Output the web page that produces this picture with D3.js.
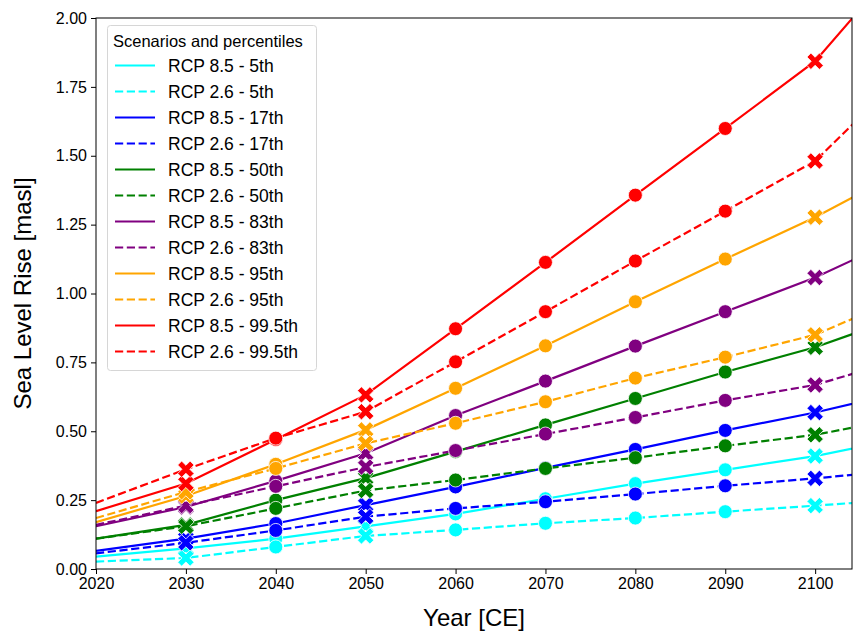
<!DOCTYPE html>
<html>
<head>
<meta charset="utf-8">
<script src="https://cdn.jsdelivr.net/npm/d3@7"></script>
<style>
  html, body { margin: 0; padding: 0; background: #fff; }
  svg { display: block; font-family: "Liberation Sans", Arial, sans-serif; }
</style>
</head>
<body>
<div id="chart"></div>
<script>
// years of the projection (last one only carries the line past the frame)
const YEARS = [2020, 2030, 2040, 2050, 2060, 2070, 2080, 2090, 2100, 2110];
const CIRCLE_YEARS = [2040, 2060, 2070, 2080, 2090];
const CROSS_YEARS = [2030, 2050, 2100];
const X_TICKS = [2020, 2030, 2040, 2050, 2060, 2070, 2080, 2090, 2100];
const Y_TICKS = [0, 0.25, 0.5, 0.75, 1, 1.25, 1.5, 1.75, 2];

// sea level rise [masl]
const rcp85_p5   = [0.045, 0.075, 0.11, 0.155, 0.20, 0.255, 0.31, 0.36, 0.41, 0.475];
const rcp26_p5   = [0.027, 0.04, 0.08, 0.12, 0.142, 0.166, 0.185, 0.208, 0.23, 0.253];
const rcp85_p17  = [0.066, 0.11, 0.165, 0.232, 0.298, 0.367, 0.434, 0.503, 0.568, 0.645];
const rcp26_p17  = [0.057, 0.095, 0.14, 0.19, 0.22, 0.244, 0.272, 0.302, 0.329, 0.36];
const rcp85_p50  = [0.11, 0.16, 0.25, 0.33, 0.426, 0.523, 0.619, 0.715, 0.805, 0.92];
const rcp26_p50  = [0.11, 0.155, 0.22, 0.285, 0.323, 0.365, 0.404, 0.447, 0.487, 0.55];
const rcp85_p83  = [0.155, 0.225, 0.32, 0.42, 0.557, 0.682, 0.809, 0.934, 1.058, 1.21];
const rcp26_p83  = [0.16, 0.23, 0.30, 0.37, 0.43, 0.49, 0.55, 0.612, 0.668, 0.765];
const rcp85_p95  = [0.17, 0.265, 0.38, 0.505, 0.656, 0.81, 0.97, 1.125, 1.277, 1.45];
const rcp26_p95  = [0.185, 0.28, 0.365, 0.456, 0.529, 0.607, 0.693, 0.769, 0.85, 0.99];
const rcp85_p995 = [0.21, 0.31, 0.47, 0.632, 0.872, 1.113, 1.357, 1.599, 1.843, 2.22];
const rcp26_p995 = [0.24, 0.362, 0.475, 0.571, 0.752, 0.934, 1.118, 1.299, 1.481, 1.80];

const SERIES = [
  { label: "RCP 8.5 - 5th",    color: "cyan",   dashed: false, values: rcp85_p5 },
  { label: "RCP 2.6 - 5th",    color: "cyan",   dashed: true,  values: rcp26_p5 },
  { label: "RCP 8.5 - 17th",   color: "blue",   dashed: false, values: rcp85_p17 },
  { label: "RCP 2.6 - 17th",   color: "blue",   dashed: true,  values: rcp26_p17 },
  { label: "RCP 8.5 - 50th",   color: "green",  dashed: false, values: rcp85_p50 },
  { label: "RCP 2.6 - 50th",   color: "green",  dashed: true,  values: rcp26_p50 },
  { label: "RCP 8.5 - 83th",   color: "purple", dashed: false, values: rcp85_p83 },
  { label: "RCP 2.6 - 83th",   color: "purple", dashed: true,  values: rcp26_p83 },
  { label: "RCP 8.5 - 95th",   color: "orange", dashed: false, values: rcp85_p95 },
  { label: "RCP 2.6 - 95th",   color: "orange", dashed: true,  values: rcp26_p95 },
  { label: "RCP 8.5 - 99.5th", color: "red",    dashed: false, values: rcp85_p995 },
  { label: "RCP 2.6 - 99.5th", color: "red",    dashed: true,  values: rcp26_p995 }
];

const W = 854, H = 633;
const M = { left: 96, right: 852, top: 18, bottom: 569 };
const DASH = "8.2,3.6";
const LW = 2.2;

const svg = d3.select("#chart").append("svg")
  .attr("width", W)
  .attr("height", H);

const x = d3.scaleLinear().domain([2020, 2104.1]).range([M.left, M.right]);
const y = d3.scaleLinear().domain([0, 2]).range([M.bottom, M.top]);

svg.append("clipPath").attr("id", "clip")
  .append("rect")
  .attr("x", M.left).attr("y", M.top)
  .attr("width", M.right - M.left).attr("height", M.bottom - M.top);

// filled "X" marker, a plus rotated 45 degrees
function crossPath(L, a) {
  const pts = [[-a,-L],[a,-L],[a,-a],[L,-a],[L,a],[a,a],[a,L],[-a,L],[-a,a],[-L,a],[-L,-a],[-a,-a]];
  const r = pts.map(([px, py]) => [(px - py) / Math.SQRT2, (px + py) / Math.SQRT2]);
  return "M" + r.map(p => p[0].toFixed(2) + "," + p[1].toFixed(2)).join("L") + "Z";
}
const X_MARK = crossPath(8.8, 2.8);

const plot = svg.append("g").attr("clip-path", "url(#clip)");
const line = d3.line().x((d, i) => x(YEARS[i])).y(d => y(d));

SERIES.forEach(s => {
  const g = plot.append("g");
  g.append("path")
    .attr("d", line(s.values))
    .attr("fill", "none")
    .attr("stroke", s.color)
    .attr("stroke-width", LW)
    .attr("stroke-dasharray", s.dashed ? DASH : null);

  const pts = YEARS.map((yr, i) => ({ yr, v: s.values[i] }));
  g.selectAll("circle")
    .data(pts.filter(p => CIRCLE_YEARS.includes(p.yr)))
    .enter().append("circle")
    .attr("cx", d => x(d.yr))
    .attr("cy", d => y(d.v))
    .attr("r", 7)
    .attr("fill", s.color)
    .attr("stroke", "#fff")
    .attr("stroke-width", 0.8);

  g.selectAll(".xm")
    .data(pts.filter(p => CROSS_YEARS.includes(p.yr)))
    .enter().append("path")
    .attr("class", "xm")
    .attr("d", X_MARK)
    .attr("transform", d => `translate(${x(d.yr)},${y(d.v)})`)
    .attr("fill", s.color)
    .attr("stroke", "#fff")
    .attr("stroke-width", 0.8);
});

// axes
const xAxis = svg.append("g")
  .attr("transform", `translate(0,${M.bottom})`)
  .call(d3.axisBottom(x).tickValues(X_TICKS).tickFormat(d3.format("d")).tickSize(5).tickPadding(4));
const yAxis = svg.append("g")
  .attr("transform", `translate(${M.left},0)`)
  .call(d3.axisLeft(y).tickValues(Y_TICKS).tickFormat(d3.format(".2f")).tickSize(5).tickPadding(4));

[xAxis, yAxis].forEach(a => {
  a.select(".domain").remove();
  a.selectAll(".tick line").attr("stroke", "#000").attr("stroke-width", 1);
  a.selectAll(".tick text").attr("fill", "#000")
    .style("font-size", "16px")
    .style("font-family", "'Liberation Sans', Arial, sans-serif");
});

// frame
svg.append("rect")
  .attr("x", M.left).attr("y", M.top)
  .attr("width", M.right - M.left).attr("height", M.bottom - M.top)
  .attr("fill", "none").attr("stroke", "#000").attr("stroke-width", 1);

// axis titles
svg.append("text")
  .attr("x", 474)
  .attr("y", 626)
  .attr("text-anchor", "middle")
  .style("font-size", "24px")
  .text("Year [CE]");
svg.append("text")
  .attr("transform", `translate(31,${(M.top + M.bottom) / 2}) rotate(-90)`)
  .attr("text-anchor", "middle")
  .style("font-size", "24px")
  .text("Sea Level Rise [masl]");

// legend
const lg = svg.append("g");
lg.append("rect")
  .attr("x", 107.5).attr("y", 25.5)
  .attr("width", 209).attr("height", 345)
  .attr("rx", 3)
  .attr("fill", "#fff").attr("fill-opacity", 0.8)
  .attr("stroke", "#d6d6d6").attr("stroke-width", 1);
lg.append("text")
  .attr("x", 113).attr("y", 47)
  .style("font-size", "16.5px")
  .text("Scenarios and percentiles");

const rows = lg.selectAll(".row").data(SERIES).enter().append("g")
  .attr("class", "row")
  .attr("transform", (d, i) => `translate(0,${65.5 + i * 26})`);
rows.append("line")
  .attr("x1", 115).attr("x2", 155)
  .attr("stroke", d => d.color)
  .attr("stroke-width", LW)
  .attr("stroke-dasharray", d => d.dashed ? DASH : null);
rows.append("text")
  .attr("x", 168).attr("y", 6.3)
  .style("font-size", "17.5px")
  .text(d => d.label);
</script>
</body>
</html>
